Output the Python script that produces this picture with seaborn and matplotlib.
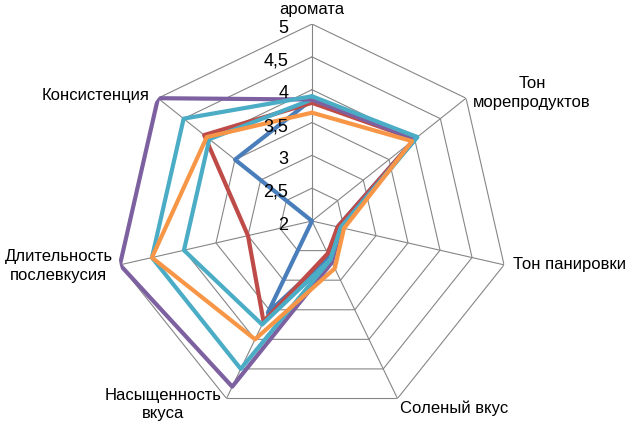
import numpy as np
import pandas as pd
import matplotlib
matplotlib.use("Agg")
import matplotlib.pyplot as plt
import seaborn as sns

# ---- data ----
categories = ["аромата", "Тон\nморепродуктов", "Тон панировки", "Соленый вкус",
              "Насыщенность\nвкуса", "Длительность\nпослевкусия", "Консистенция"]
ring_values = [2, 2.5, 3, 3.5, 4, 4.5, 5]
ring_labels = ["2", "2,5", "3", "3,5", "4", "4,5", "5"]

series_names = ["Образец 1", "Образец 2", "Образец 3", "Образец 4", "Образец 5", "Образец 6"]
s1 = [3.85, 4.00, 2.40, 2.60, 3.55, 2.00, 3.50]
s2 = [3.80, 4.00, 2.40, 2.55, 3.70, 3.00, 4.10]
s3 = [3.85, 4.05, 2.45, 2.65, 3.75, 4.00, 4.00]
s4 = [3.85, 4.00, 2.45, 2.70, 4.80, 5.00, 5.00]
s5 = [3.90, 4.05, 2.45, 2.65, 4.50, 4.50, 4.50]
s6 = [3.65, 3.95, 2.50, 2.80, 4.00, 4.50, 4.05]
series_values = [s1, s2, s3, s4, s5, s6]
colors = ["#4A7EBB", "#BE4B48", "#4BACC6", "#7D60A0", "#4BACC6", "#F79646"]

# ---- style ----
sns.set_theme(style="white")
plt.rcParams["font.family"] = ["Liberation Sans Narrow", "Liberation Sans", "DejaVu Sans"]

fig = plt.figure(figsize=(6.27, 4.29), dpi=100)
ax = fig.add_axes([0.1834, 0.0256, 0.6284, 0.9184], projection="polar")
ax.set_theta_zero_location("N")
ax.set_theta_direction(-1)
ax.grid(False)
ax.spines["polar"].set_visible(False)
ax.set_facecolor("none")

n = len(categories)
angles = np.arange(n) * 2 * np.pi / n
closed = np.append(angles, 2 * np.pi)

grid_col = "#868686"
for v in ring_values[1:]:
    ax.plot(closed, [v] * (n + 1), color=grid_col, lw=0.8, zorder=1)
for a in angles:
    ax.plot([a, a], [ring_values[0], ring_values[-1]], color=grid_col, lw=0.8, zorder=1)

rows = []
for name, vals in zip(series_names, series_values):
    vv = list(vals) + [vals[0]]
    for i, (t, v) in enumerate(zip(closed, vv)):
        rows.append({"series": name, "theta": t, "value": v, "idx": i})
df = pd.DataFrame(rows)

sns.lineplot(data=df, x="theta", y="value", hue="series", hue_order=series_names,
             palette=dict(zip(series_names, colors)), sort=False, estimator=None,
             units="series", linewidth=3.0, legend=False, ax=ax, zorder=3)

ax.set_ylim(ring_values[0], ring_values[-1])
ax.set_xticks([])
ax.set_yticks([])
ax.set_xlabel("")
ax.set_ylabel("")

for v, lab in zip(ring_values, ring_labels):
    ax.annotate(lab, xy=(0, v), xytext=(-17, -3), textcoords="offset points",
                ha="right", va="center", fontsize=13,
                family=["Liberation Sans", "DejaVu Sans"], color="#000000")

# category labels: (offset in points, ha, va)
label_pos = [((0, 10.5), "center", "center"),
             ((47.5, 3.6), "center", "center"),
             ((6.5, 0), "left", "center"),
             ((2, -7), "left", "center"),
             ((-46, -4.3), "center", "center"),
             ((-44, -0.7), "center", "center"),
             ((-5.8, 2), "right", "center")]
for a, cat, (off, ha, va) in zip(angles, categories, label_pos):
    ax.annotate(cat, xy=(a, ring_values[-1]), xytext=off, textcoords="offset points",
                ha=ha, va=va, fontsize=12, multialignment="center",
                linespacing=1.3, color="#000000", annotation_clip=False)

fig.savefig("out.png", dpi=100)
